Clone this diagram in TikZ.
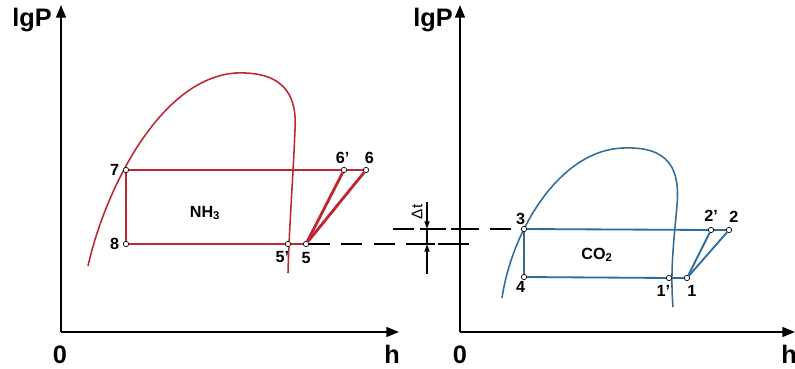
\documentclass[tikz,border=0pt]{standalone}
\usepackage{fontspec}
\setmainfont{Liberation Sans}
\usetikzlibrary{arrows.meta,positioning}
\definecolor{nhred}{HTML}{BE2630}
\definecolor{coblue}{HTML}{2F6C9A}

\begin{document}
\begin{tikzpicture}[x=0.025cm,y=-0.025cm,
  axis/.style={line width=1.4pt,-{Triangle[length=9pt,width=7pt]}},
  dome/.style={line width=1.1pt},
  nhline/.style={draw=nhred,line width=2pt},
  coline/.style={draw=coblue,line width=1.3pt},
  pt/.style={circle,draw=black,fill=white,line width=0.5pt,inner sep=0pt,minimum size=3.8pt},
  num/.style={font=\bfseries\fontsize{11.5}{11.5}\selectfont,inner sep=0.5pt},
  big/.style={font=\bfseries\fontsize{18}{18}\selectfont,inner sep=0pt},
  dashln/.style={line width=1.8pt,dash pattern=on 15pt off 8pt},
  tick/.style={line width=1.8pt},
  dim/.style={line width=1.3pt,-{Triangle[length=5.5pt,width=3.5pt]}},
  node distance=1pt
]
\useasboundingbox (0,0) rectangle (795,368);

% left axes (NH3)
\coordinate (o1) at (61,332);
\draw[axis] (o1) -- (61,5);
\draw[axis] (o1) -- (399,332);
\node[big] (yl1) at (32,20) {lgP};
\node[big] (zl1) at (60,355) {0};
\node[big] (hl1) at (392,354) {h};

% right axes (CO2)
\coordinate (o2) at (460,332);
\draw[axis] (o2) -- (460,5);
\draw[axis] (o2) -- (795,332);
\node[big] (yl2) at (433,20) {lgP};
\node[big] (zl2) at (460,355) {0};
\node[big] (hl2) at (789,354) {h};

% saturation domes
\draw[dome,nhred] (88,266) .. controls (105,190) and (160,78) .. (236,73)
  .. controls (288,71) and (297,100) .. (295,130)
  .. controls (293,180) and (289,230) .. (288,273);
\draw[dome,coblue] (502,298) .. controls (512,230) and (560,150) .. (623,148)
  .. controls (670,146) and (680,170) .. (677,205)
  .. controls (674,240) and (670,270) .. (673,307);

% NH3 cycle
\node[pt] (n7) at (126,170) {};
\node[pt] (n8) at (126,244) {};
\node[pt] (n5p) at (288,244) {};
\node[pt] (n5) at (306,244) {};
\node[pt] (n6p) at (344,170) {};
\node[pt] (n6) at (366,170) {};
\draw[nhline] (n7) -- (n6p) -- (n6);
\draw[nhline] (n7) -- (n8);
\draw[nhline] (n8) -- (n5p) -- (n5);
\draw[nhline] (n5) -- (n6p);
\draw[nhline] (n5) -- (n6);
\node[num,left=2pt of n7] (l7) {7};
\node[num,left=2pt of n8] (l8) {8};
\node[num,below left=3pt and -3pt of n5p] (l5p) {5’};
\node[num,below=3pt of n5] (l5) {5};
\node[num,above left=2pt and -6pt of n6p] (l6p) {6’};
\node[num,above right=2pt and -3pt of n6] (l6) {6};
\node[font=\bfseries\fontsize{11.5}{11.5}\selectfont] (nh) at (205,213) {NH\textsubscript{3}};

% CO2 cycle
\node[pt] (n3) at (524,229) {};
\node[pt] (n4) at (524,277) {};
\node[pt] (n1p) at (669,278) {};
\node[pt] (n1) at (687,278) {};
\node[pt] (n2p) at (711,230) {};
\node[pt] (n2) at (729,230) {};
\draw[coline] (n3) -- (n2p) -- (n2);
\draw[coline] (n3) -- (n4);
\draw[coline] (n4) -- (n1p) -- (n1);
\draw[coline] (n1) -- (n2p);
\draw[coline] (n1) -- (n2);
\node[num,above left=1pt and -3pt of n3] (l3) {3};
\node[num,below left=1pt and -3pt of n4] (l4) {4};
\node[num,below left=3pt and -3pt of n1p] (l1p) {1’};
\node[num,below right=3pt and -2pt of n1] (l1) {1};
\node[num,above=3pt of n2p] (l2p) {2’};
\node[num,above right=3pt and -2pt of n2] (l2) {2};
\node[font=\bfseries\fontsize{11.5}{11.5}\selectfont] (co) at (597,255) {CO\textsubscript{2}};

% temperature difference between the two cycles
\coordinate (up) at (393,229);
\coordinate (lo) at (470,244);
\draw[dashln] (up) -- (n3);
\draw[dashln] (n5) -- (lo);
\draw[tick] (420,229) -- (435,229);
\draw[tick] (420,244) -- (435,244);
\draw[tick] (451,229) -- (469,229);
\draw[tick] (451,244) -- (469,244);
\coordinate (dt1) at (427,202);
\coordinate (dt2) at (427,274);
\coordinate (da) at (427,229);
\coordinate (db) at (427,244);
\draw[dim] (dt1) -- (da);
\draw[dim] (dt2) -- (db);
\draw[line width=1.3pt] (da) -- (db);
\node[rotate=90,font=\fontsize{11}{11}\selectfont] (dtl) at (417,212) {Δt};
\end{tikzpicture}
\end{document}
